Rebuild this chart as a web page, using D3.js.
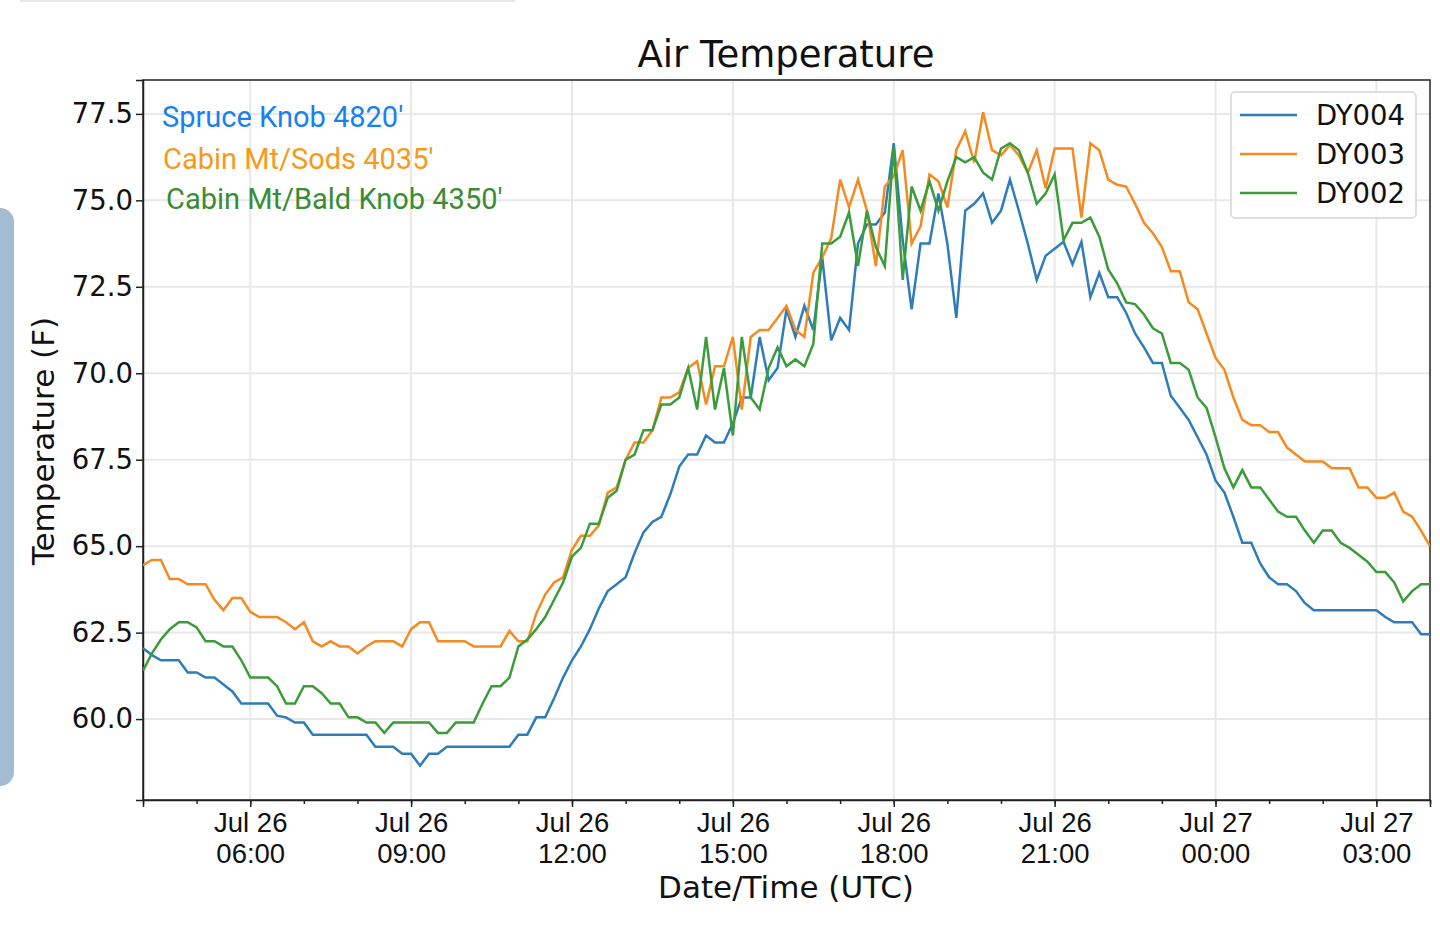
<!DOCTYPE html>
<html>
<head>
<meta charset="utf-8">
<script src="https://cdn.jsdelivr.net/npm/d3@7"></script>
<style>
  body { margin: 0; background: #fff; font-family: "DejaVu Sans", sans-serif; }
</style>
</head>
<body>
<div id="chart"></div>
<script>
var width = 1440, height = 925;
var margin = {left: 143, right: 10, top: 80, bottom: 125};

// 10 minute readings starting Jul 26 04:00 UTC
var dy004 = [62.05,61.85,61.7,61.7,61.7,61.35,61.35,61.2,61.2,61.0,60.8,60.45,60.45,60.45,60.45,60.1,60.05,59.9,59.9,59.55,
  59.55,59.55,59.55,59.55,59.55,59.55,59.2,59.2,59.2,59.0,59.0,58.65,59.0,59.0,59.2,59.2,59.2,59.2,59.2,59.2,
  59.2,59.2,59.55,59.55,60.05,60.05,60.6,61.2,61.7,62.1,62.6,63.2,63.7,63.9,64.1,64.8,65.4,65.7,65.85,66.5,
  67.3,67.65,67.65,68.2,68.0,68.0,68.55,69.3,69.3,71.05,69.8,70.15,71.85,71.05,71.95,71.25,73.35,70.95,71.6,71.25,
  73.75,74.3,74.3,74.65,76.65,73.85,71.85,73.75,73.75,75.2,73.75,71.6,74.7,74.9,75.2,74.35,74.7,75.6,74.7,73.75,
  72.7,73.4,73.6,73.8,73.15,73.8,72.2,72.9,72.2,72.2,71.75,71.15,70.75,70.3,70.3,69.35,69.0,68.65,68.15,67.65,
  66.9,66.55,65.85,65.1,65.1,64.5,64.1,63.9,63.9,63.7,63.35,63.15,63.15,63.15,63.15,63.15,63.15,63.15,63.15,62.95,
  62.8,62.8,62.8,62.45,62.45];
var dy003 = [64.45,64.6,64.6,64.05,64.05,63.9,63.9,63.9,63.45,63.15,63.5,63.5,63.1,62.95,62.95,62.95,62.8,62.6,62.8,62.25,
  62.1,62.25,62.1,62.1,61.9,62.1,62.25,62.25,62.25,62.1,62.6,62.8,62.8,62.25,62.25,62.25,62.25,62.1,62.1,62.1,
  62.1,62.55,62.25,62.25,63.05,63.6,63.95,64.1,64.9,65.3,65.3,65.6,66.55,66.7,67.5,68.0,68.0,68.35,69.3,69.3,
  69.45,70.15,70.35,69.1,70.2,70.2,71.05,68.95,71.05,71.25,71.25,71.6,71.95,71.25,71.05,72.9,73.35,73.9,75.6,74.8,
  75.6,74.7,73.1,75.4,75.7,76.45,73.75,74.25,75.75,75.55,74.8,76.45,77.0,76.1,77.55,76.45,76.3,76.6,76.3,75.8,
  76.45,75.35,76.5,76.5,76.5,74.5,76.65,76.45,75.6,75.45,75.4,74.9,74.35,74.05,73.65,72.95,72.95,72.05,71.85,71.15,
  70.45,70.1,69.3,68.65,68.5,68.5,68.3,68.3,67.85,67.65,67.45,67.45,67.45,67.25,67.25,67.25,66.7,66.7,66.4,66.4,
  66.55,66.0,65.85,65.45,65.0];
var dy002 = [61.4,61.9,62.3,62.6,62.8,62.8,62.65,62.25,62.25,62.1,62.1,61.7,61.2,61.2,61.2,60.95,60.45,60.45,60.95,60.95,
  60.75,60.45,60.45,60.05,60.05,59.9,59.9,59.6,59.9,59.9,59.9,59.9,59.9,59.6,59.6,59.9,59.9,59.9,60.45,60.95,
  60.95,61.2,62.1,62.3,62.6,62.95,63.45,63.95,64.7,64.95,65.65,65.65,66.4,66.6,67.5,67.65,68.35,68.35,69.1,69.1,
  69.3,70.15,68.95,71.05,68.95,70.15,68.2,71.05,69.3,68.95,70.15,70.75,70.2,70.4,70.2,70.85,73.75,73.75,73.95,74.65,
  73.1,74.7,73.65,73.1,76.55,72.7,75.4,74.7,75.55,74.7,75.55,76.25,76.1,76.25,75.8,75.6,76.5,76.65,76.45,75.8,
  74.9,75.2,75.75,73.85,74.35,74.35,74.5,73.95,73.0,72.6,72.05,72.0,71.7,71.3,71.15,70.3,70.3,70.1,69.3,69.0,
  68.15,67.25,66.7,67.2,66.7,66.7,66.35,66.0,65.85,65.85,65.45,65.1,65.45,65.45,65.1,64.95,64.75,64.55,64.25,64.25,
  63.95,63.4,63.7,63.9,63.9];

var t0 = Date.UTC(2018, 6, 26, 4, 0);
var series = [
  {name: "DY004", colour: "#2f7db8", values: dy004},
  {name: "DY003", colour: "#f58a20", values: dy003},
  {name: "DY002", colour: "#3a9c3a", values: dy002}
];
series.forEach(function (s) {
  s.points = s.values.map(function (v, i) { return {t: new Date(t0 + i * 600000), v: v}; });
});

var svg = d3.select("#chart").append("svg")
  .attr("width", width).attr("height", height);

// decorations from the screenshot
svg.append("rect").attr("x", -20).attr("y", 208).attr("width", 34).attr("height", 578)
  .attr("rx", 14).attr("fill", "#a3bcd4");
svg.append("line").attr("x1", 20).attr("x2", 515).attr("y1", 1).attr("y2", 1)
  .attr("stroke", "#e8e8e8").attr("stroke-width", 2);

var x = d3.scaleUtc()
  .domain([new Date(t0), new Date(t0 + 24 * 3600000)])
  .range([margin.left, width - margin.right]);
var y = d3.scaleLinear()
  .domain([57.66, 78.48])
  .range([height - margin.bottom, margin.top]);

var majors = d3.utcHour.every(3).range(new Date(t0 + 3600000), new Date(t0 + 24 * 3600000));
var minors = d3.utcHour.every(1).range(new Date(t0), new Date(t0 + 24 * 3600001));
var yTicks = d3.range(60, 78, 2.5);

// grid
svg.append("g").selectAll("line").data(majors).enter().append("line")
  .attr("x1", function (d) { return x(d); }).attr("x2", function (d) { return x(d); })
  .attr("y1", margin.top).attr("y2", height - margin.bottom)
  .attr("stroke", "#e8e8e8").attr("stroke-width", 2);
svg.append("g").selectAll("line").data(yTicks).enter().append("line")
  .attr("x1", margin.left).attr("x2", width - margin.right)
  .attr("y1", function (d) { return y(d); }).attr("y2", function (d) { return y(d); })
  .attr("stroke", "#e8e8e8").attr("stroke-width", 2);

// axes
var fmtD = d3.utcFormat("%b %d"), fmtT = d3.utcFormat("%H:%M");
var xAxis = svg.append("g").attr("transform", "translate(0," + (height - margin.bottom) + ")")
  .call(d3.axisBottom(x).tickValues(majors).tickSize(7).tickFormat(""));
xAxis.selectAll(".tick").each(function (d) {
  var t = d3.select(this).append("text").attr("fill", "#111").attr("font-size", 27.5)
    .attr("text-anchor", "middle");
  t.append("tspan").attr("x", 0).attr("y", 32).text(fmtD(d));
  t.append("tspan").attr("x", 0).attr("y", 63).text(fmtT(d));
});
svg.append("g").attr("transform", "translate(0," + (height - margin.bottom) + ")")
  .call(d3.axisBottom(x).tickValues(minors).tickSize(4).tickFormat(""))
  .select(".domain").remove();

svg.append("g").attr("transform", "translate(" + margin.left + ",0)")
  .call(d3.axisLeft(y).tickValues(yTicks).tickSize(7).tickFormat(d3.format(".1f")))
  .selectAll("text").attr("font-size", 27.5).attr("fill", "#111")
  .attr("font-family", "DejaVu Sans");

svg.selectAll(".domain").attr("stroke", "#222").attr("stroke-width", 1.5);
svg.selectAll(".tick line").attr("stroke", "#222").attr("stroke-width", 1.5);

// frame
svg.append("rect").attr("x", margin.left).attr("y", margin.top)
  .attr("width", width - margin.right - margin.left)
  .attr("height", height - margin.bottom - margin.top)
  .attr("fill", "none").attr("stroke", "#222").attr("stroke-width", 1.5);

// lines
var line = d3.line().x(function (d) { return x(d.t); }).y(function (d) { return y(d.v); });
svg.append("defs").append("clipPath").attr("id", "clip").append("rect")
  .attr("x", margin.left).attr("y", margin.top)
  .attr("width", width - margin.right - margin.left)
  .attr("height", height - margin.bottom - margin.top);
svg.append("g").attr("clip-path", "url(#clip)").selectAll("path").data(series).enter()
  .append("path")
  .attr("d", function (d) { return line(d.points); })
  .attr("fill", "none")
  .attr("stroke", function (d) { return d.colour; })
  .attr("stroke-width", 2.5);

// titles
svg.append("text").attr("x", 786).attr("y", 67).attr("text-anchor", "middle")
  .attr("font-size", 37).attr("fill", "#111").text("Air Temperature");
svg.append("text").attr("x", 786).attr("y", 898).attr("text-anchor", "middle")
  .attr("font-size", 31).attr("fill", "#111").text("Date/Time (UTC)");
svg.append("text").attr("transform", "translate(54,441) rotate(-90)")
  .attr("text-anchor", "middle").attr("font-size", 31).attr("fill", "#111")
  .text("Temperature (F)");

// site notes
var notes = [
  {text: "Spruce Knob 4820'", colour: "#1a7ff0", x: 162, y: 127},
  {text: "Cabin Mt/Sods 4035'", colour: "#f59a1c", x: 163, y: 169},
  {text: "Cabin Mt/Bald Knob 4350'", colour: "#3a8c34", x: 166, y: 209}
];
svg.selectAll(".note").data(notes).enter().append("text")
  .attr("x", function (d) { return d.x; }).attr("y", function (d) { return d.y; })
  .attr("font-family", "Roboto").attr("font-size", 29)
  .attr("fill", function (d) { return d.colour; })
  .text(function (d) { return d.text; });

// legend
var lg = svg.append("g");
lg.append("rect").attr("x", 1231).attr("y", 92).attr("width", 185).attr("height", 126)
  .attr("rx", 4).attr("fill", "#fff").attr("fill-opacity", 0.85)
  .attr("stroke", "#d5d5d5").attr("stroke-width", 1.5);
series.forEach(function (s, i) {
  var yy = 115 + i * 39;
  lg.append("line").attr("x1", 1240).attr("x2", 1297).attr("y1", yy).attr("y2", yy)
    .attr("stroke", s.colour).attr("stroke-width", 2.5);
  lg.append("text").attr("x", 1316).attr("y", yy + 10).attr("font-size", 27.5)
    .attr("fill", "#111").text(s.name);
});
</script>
</body>
</html>
